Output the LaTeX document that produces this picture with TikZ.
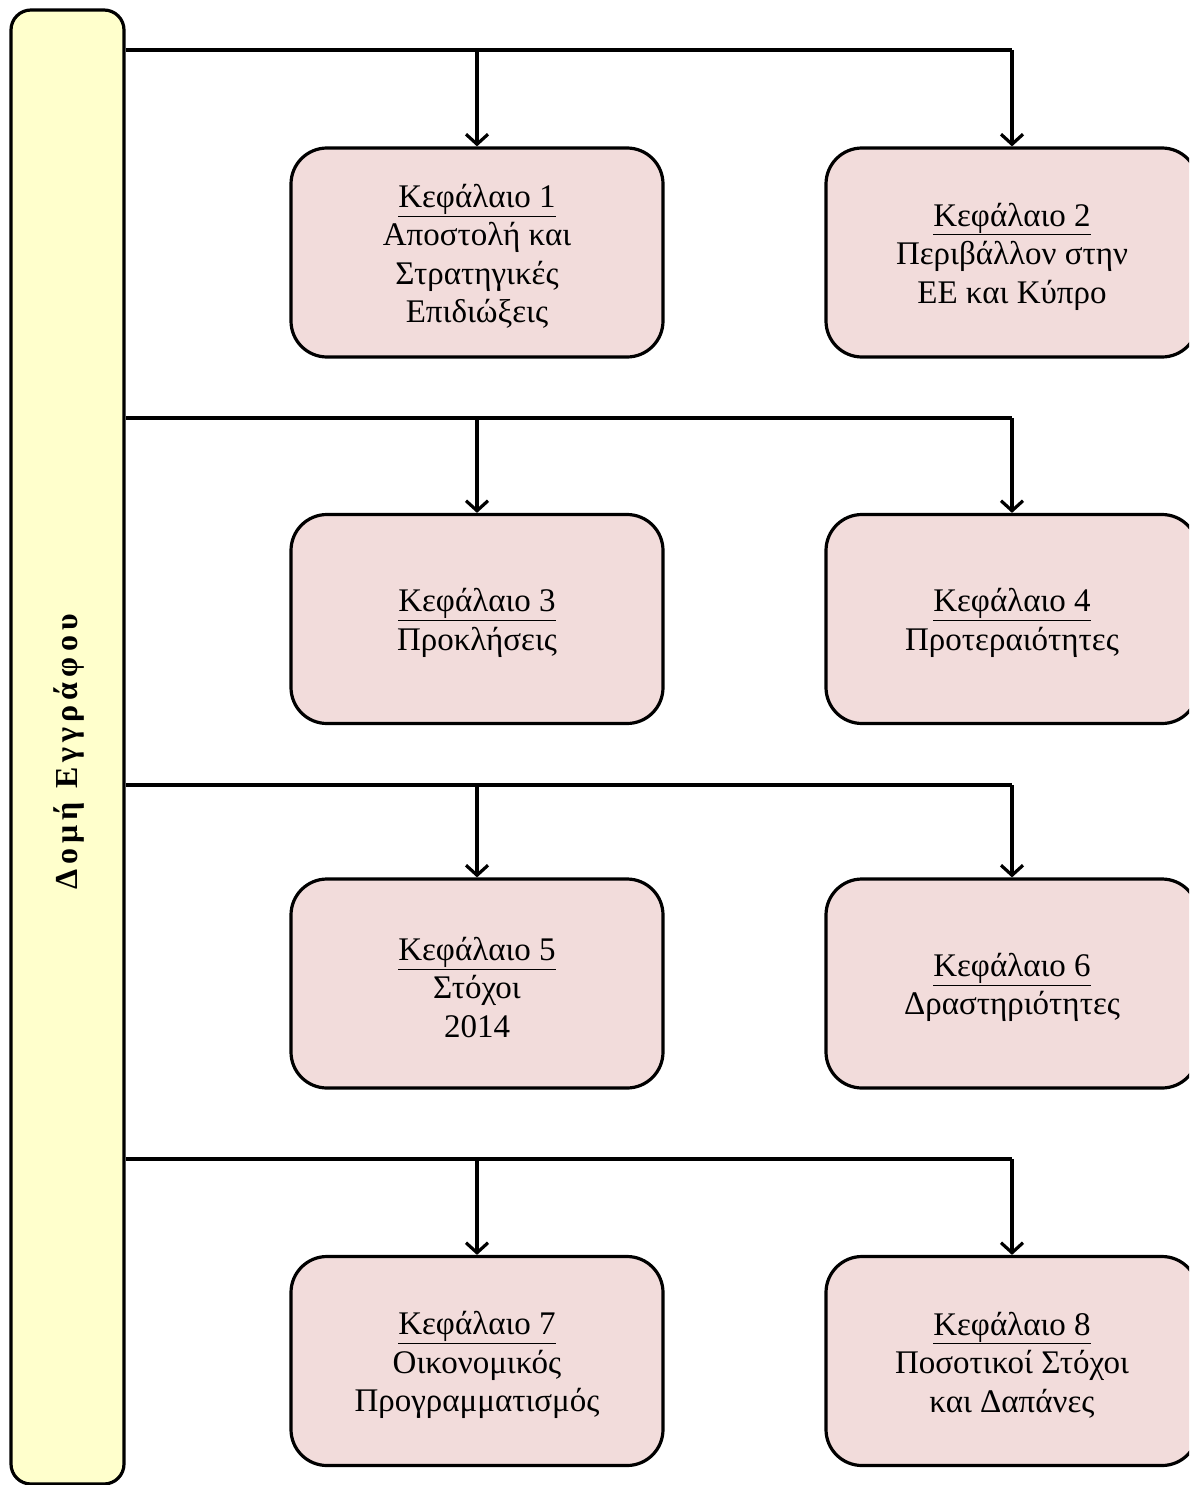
\documentclass[tikz,border=0pt]{standalone}
\usepackage{fontspec}
\setmainfont{Liberation Serif}
\newfontfamily\spacedfont[LetterSpace=16]{Liberation Serif}
\usetikzlibrary{arrows.meta}
\definecolor{boxpink}{HTML}{F2DCDB}
\definecolor{baryellow}{HTML}{FFFFCC}
\begin{document}
\begin{tikzpicture}[x=1pt,y=-1pt,
  chap/.style={draw=black, line width=3.2pt, fill=boxpink, rounded corners=36pt,
    minimum width=372pt, minimum height=209pt, inner sep=0pt},
  chaptext/.style={align=center, font=\fontsize{33}{38.5}\selectfont, inner sep=0pt},
  conn/.style={line width=3.2pt},
  arr/.style={line width=3.2pt, -{Straight Barb[length=10pt,width=22pt,line width=3.2pt]}}]
\useasboundingbox (0,0) rectangle (1189,1485);
\clip (0,0) rectangle (1189,1485);
\node[draw=black, line width=3.2pt, fill=baryellow, rounded corners=20pt,
  minimum width=113pt, minimum height=1474pt, inner sep=0pt] (bar) at (67.5,747) {};
\node[rotate=90, font=\fontsize{32}{36}\selectfont\spacedfont\bfseries, inner sep=0pt]
  (bartext) at (69,752) {Δομή Εγγράφου};
\node[chap] (b1) at (477,252.5) {};
\node[chap] (b2) at (1012,252.5) {};
\node[chap] (b3) at (477,619) {};
\node[chap] (b4) at (1012,619) {};
\node[chap] (b5) at (477,983.5) {};
\node[chap] (b6) at (1012,983.5) {};
\node[chap] (b7) at (477,1361) {};
\node[chap] (b8) at (1012,1361) {};
\node[chaptext] (t1) at ([yshift=-4pt]b1.center) {\underline{Κεφάλαιο 1}\\Αποστολή και\\Στρατηγικές\\Επιδιώξεις};
\node[chaptext] (t2) at ([yshift=-4pt]b2.center) {\underline{Κεφάλαιο 2}\\Περιβάλλον στην\\ΕΕ και Κύπρο};
\node[chaptext] (t3) at ([yshift=-4pt]b3.center) {\underline{Κεφάλαιο 3}\\Προκλήσεις};
\node[chaptext] (t4) at ([yshift=-4pt]b4.center) {\underline{Κεφάλαιο 4}\\Προτεραιότητες};
\node[chaptext] (t5) at ([yshift=-4pt]b5.center) {\underline{Κεφάλαιο 5}\\Στόχοι\\2014};
\node[chaptext] (t6) at ([yshift=-4pt]b6.center) {\underline{Κεφάλαιο 6}\\Δραστηριότητες};
\node[chaptext] (t7) at ([yshift=-4pt]b7.center) {\underline{Κεφάλαιο 7}\\Οικονομικός\\Προγραμματισμός};
\node[chaptext] (t8) at ([yshift=-4pt]b8.center) {\underline{Κεφάλαιο 8}\\Ποσοτικοί Στόχοι\\και Δαπάνες};
\coordinate (h1) at (1012,50);
\coordinate (h2) at (1012,418);
\coordinate (h3) at (1012,785);
\coordinate (h4) at (1012,1159);
\draw[conn] (bar.east |- h1) -- (h1);
\draw[arr] (h1) -- (b2.north);
\draw[arr] (b1.north |- h1) -- (b1.north);
\draw[conn] (bar.east |- h2) -- (h2);
\draw[arr] (h2) -- (b4.north);
\draw[arr] (b3.north |- h2) -- (b3.north);
\draw[conn] (bar.east |- h3) -- (h3);
\draw[arr] (h3) -- (b6.north);
\draw[arr] (b5.north |- h3) -- (b5.north);
\draw[conn] (bar.east |- h4) -- (h4);
\draw[arr] (h4) -- (b8.north);
\draw[arr] (b7.north |- h4) -- (b7.north);
\end{tikzpicture}
\end{document}
